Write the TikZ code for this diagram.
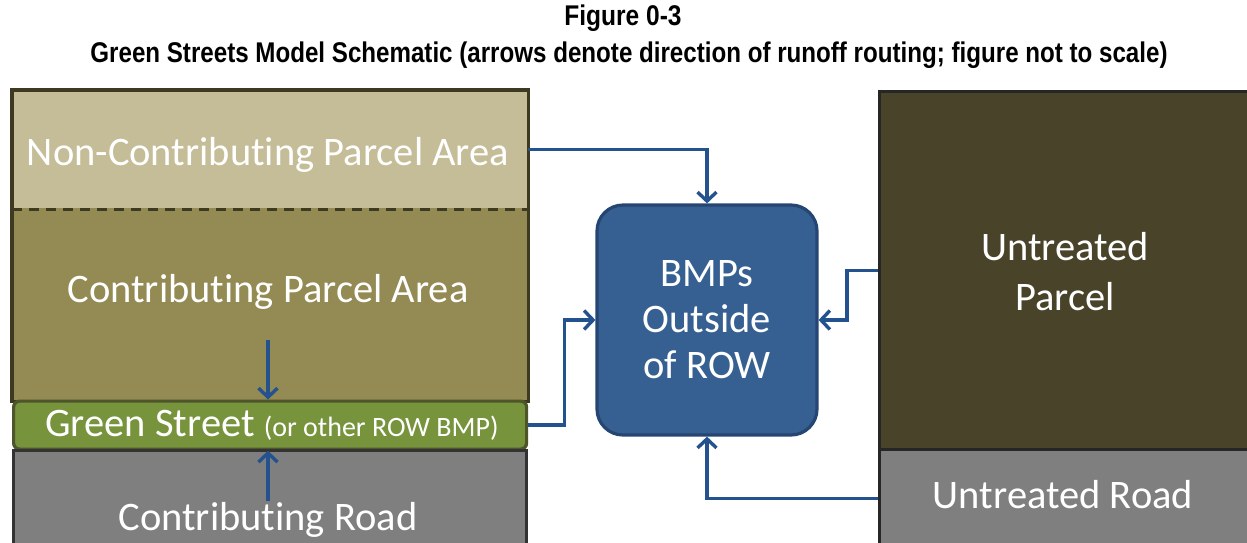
\documentclass[tikz,border=0pt]{standalone}
\usepackage{fontspec}
\setmainfont{Carlito}[Ligatures={NoCommon}]
\newfontfamily\titlefont[FakeStretch=0.86]{Liberation Sans}
\usetikzlibrary{arrows.meta}
\definecolor{nca}{HTML}{C4BD97}
\definecolor{cpa}{HTML}{948A54}
\definecolor{gsc}{HTML}{77933C}
\definecolor{road}{HTML}{7F7F7F}
\definecolor{upc}{HTML}{494429}
\definecolor{bmpc}{HTML}{376092}
\definecolor{bmpb}{HTML}{254673}
\definecolor{arr}{HTML}{24528F}
\definecolor{edge}{HTML}{3E3A22}
\tikzset{
  box/.style={draw=edge, line width=3.2pt, anchor=north west, inner sep=0pt},
  lbl/.style={text=white, font=\fontsize{40.5}{46}\selectfont, align=center},
  flow/.style={draw=arr, line width=3.4pt, -{Straight Barb[length=9pt,width=19pt,line width=3.4pt]}},
}
\begin{document}
\begin{tikzpicture}[x=1pt,y=-1pt]
\useasboundingbox (0,0) rectangle (1247,542);
\clip (0,0) rectangle (1247,542);
% title
\node[font=\titlefont\bfseries\fontsize{28.5}{32}\selectfont] (t1) at (623,18) {Figure 0-3};
\node[font=\titlefont\bfseries\fontsize{28.5}{32}\selectfont, xscale=0.985] (t2) at (629,55) {Green Streets Model Schematic (arrows denote direction of runoff routing; figure not to scale)};
% left column
\node[box, draw=none, fill=nca, minimum width=513pt, minimum height=116pt] (nca) at (12,90) {};
\node[box, draw=none, fill=cpa, minimum width=513pt, minimum height=192pt] (cpa) at (12,206) {};
\draw[edge, line width=3.2pt] (nca.south west) -- (nca.north west) -- (nca.north east) -- (nca.south east);
\draw[edge, line width=3.2pt] (cpa.north west) -- (cpa.south west) -- (cpa.south east) -- (cpa.north east);
\draw[edge, line width=3.4pt, dash pattern=on 10pt off 7pt] (nca.south west) -- (nca.south east);
\node[box, draw=edge!70!gsc, fill=gsc, rounded corners=6pt, minimum width=513pt, minimum height=48pt] (gs) at (12,399.5) {};
\node[box, draw=black!80, fill=road, minimum width=513pt, minimum height=110pt] (cr) at (12,449) {};
\node[lbl] (tnca) at (268,155) {Non-Contributing Parcel Area};
\node[lbl] (tcpa) at (268,292) {Contributing Parcel Area};
\node[lbl] (tgs) at (272,425) {Green Street {\fontsize{28}{30}\selectfont(or other ROW BMP)}};
\node[lbl] (tcr) at (268,520) {Contributing Road};
% BMP box
\node[draw=bmpb, line width=3.2pt, fill=bmpc, rounded corners=26pt, minimum width=220pt, minimum height=230pt, lbl, font=\fontsize{40.5}{46}\selectfont] (bmp) at (707,320) {BMPs\\Outside\\of ROW};
% right column
\node[box, draw=black!85, fill=upc, minimum width=400pt, minimum height=358pt] (up) at (878,90) {};
\node[box, draw=black!85, fill=road, minimum width=400pt, minimum height=98pt] (ur) at (878,448) {};
\node[lbl, font=\fontsize{40.5}{50}\selectfont] (tup) at (1065,272) {Untreated\\Parcel};
\node[lbl] (tur) at (1063,495) {Untreated Road};
% connectors
\coordinate (a1) at (268,340);
\coordinate (a2) at (268,501);
\draw[flow] (a1) -- (gs.north -| a1);
\draw[flow] (a2) -- (gs.south -| a2);
\draw[flow] (nca.east) -| (bmp.north);
\draw[flow] (gs.east) -- ++(36,0) |- (bmp.west);
\draw[flow] (up.west) -- ++(-31,0) |- (bmp.east);
\draw[flow] (ur.west) -| (bmp.south);
\end{tikzpicture}
\end{document}
